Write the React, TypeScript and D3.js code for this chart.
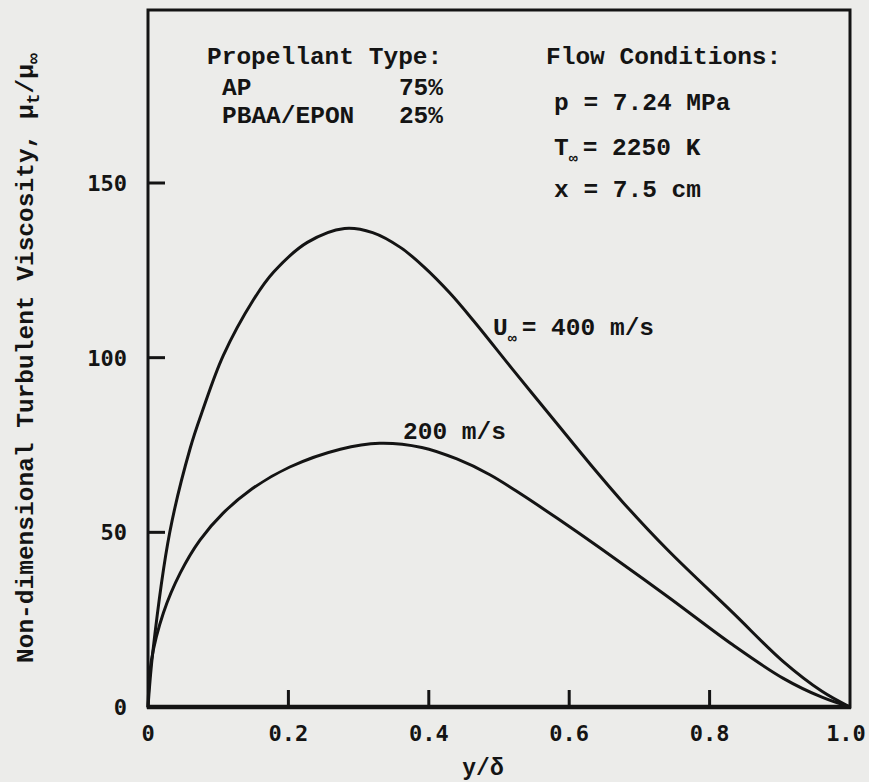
import React from 'react';
import * as d3 from 'd3';

const xTicks = [0, 0.2, 0.4, 0.6, 0.8, 1.0];
const xTickLabels = ['0', '0.2', '0.4', '0.6', '0.8', '1.0'];
const yTicks = [0, 50, 100, 150];
const yTickLabels = ['0', '50', '100', '150'];

// U∞ = 400 m/s
const yd400 = [0, 0.007, 0.031, 0.06, 0.078, 0.107, 0.15, 0.179, 0.227, 0.28, 0.32, 0.36, 0.393, 0.43, 0.464, 0.52, 0.583, 0.63, 0.677, 0.74, 0.833, 0.905, 0.96, 1];
const mu400 = [0, 16, 50, 74, 85, 100.5, 116.5, 124.5, 133, 137, 135.8, 131.5, 126, 118.5, 110.5, 96.5, 81, 69.5, 58.5, 45, 27, 13, 4.5, 0];
// U∞ = 200 m/s
const yd200 = [0, 0.005, 0.022, 0.046, 0.074, 0.107, 0.145, 0.202, 0.274, 0.33, 0.39, 0.44, 0.487, 0.534, 0.583, 0.644, 0.739, 0.833, 0.905, 0.96, 1];
const mu200 = [0, 13.5, 27, 38.4, 47.8, 55.5, 62, 68.7, 73.8, 75.5, 74.3, 71, 66.5, 60.6, 54, 45.5, 31.8, 17.8, 8.2, 2.8, 0];

const W = 869;
const H = 782;
const INK = '#141414';
const PAPER = '#ececea';
const SERIF = "'Liberation Mono', 'Courier New', monospace";
const SANS = "'DejaVu Sans Mono', monospace";

export default function App() {
  const x = d3.scaleLinear().domain([0, 1]).range([148, 850]);
  const y = d3.scaleLinear().domain([0, 150]).range([707, 183]);
  const top = 10;

  const line = d3
    .line<[number, number]>()
    .x((d) => x(d[0]))
    .y((d) => y(d[1]))
    .curve(d3.curveCatmullRom.alpha(0.5));

  const p400 = line(yd400.map((v, i) => [v, mu400[i]]) as [number, number][]) || '';
  const p200 = line(yd200.map((v, i) => [v, mu200[i]]) as [number, number][]) || '';

  const tickLen = 17;

  return (
    <svg
      width={W}
      height={H}
      style={{ position: 'absolute', left: 0, top: 0, background: PAPER }}
    >
      <rect x={0} y={0} width={W} height={H} fill={PAPER} />
      {/* frame */}
      <rect
        x={x(0)}
        y={top}
        width={x(1) - x(0)}
        height={y(0) - top}
        fill="none"
        stroke={INK}
        strokeWidth={3}
      />
      <line x1={x(0) - 1} x2={x(1) + 1} y1={y(0)} y2={y(0)} stroke={INK} strokeWidth={4.5} />

      {/* x ticks */}
      {xTicks.map((t, i) => (
        <g key={'xt' + i}>
          {i > 0 && i < xTicks.length - 1 && (
            <line x1={x(t)} x2={x(t)} y1={y(0)} y2={y(0) - tickLen} stroke={INK} strokeWidth={3} />
          )}
          <text
            x={x(t) - (i === xTicks.length - 1 ? 4 : 0)}
            y={741}
            textAnchor="middle"
            fontFamily={SANS}
            fontWeight="bold"
            fontSize={22}
            fill={INK}
          >
            {xTickLabels[i]}
          </text>
        </g>
      ))}

      {/* y ticks */}
      {yTicks.map((t, i) => (
        <g key={'yt' + i}>
          {i > 0 && (
            <line x1={x(0)} x2={x(0) + tickLen} y1={y(t)} y2={y(t)} stroke={INK} strokeWidth={3} />
          )}
          <text
            x={127}
            y={y(t) + 8}
            textAnchor="end"
            fontFamily={SANS}
            fontWeight="bold"
            fontSize={22}
            fill={INK}
          >
            {yTickLabels[i]}
          </text>
        </g>
      ))}

      {/* curves */}
      <path d={p400} fill="none" stroke={INK} strokeWidth={3} />
      <path d={p200} fill="none" stroke={INK} strokeWidth={3} />

      {/* axis titles */}
      <text x={483} y={775} textAnchor="middle" fontFamily={SERIF} fontWeight="bold" fontSize={23} fill={INK}>
        y/δ
      </text>
      <text
        transform="translate(33,663) rotate(-90)"
        fontFamily={SERIF}
        fontWeight="bold"
        fontSize={24.5}
        fill={INK}
      >
        Non-dimensional Turbulent Viscosity, μ
        <tspan dy={6} fontSize={18}>t</tspan>
        <tspan dy={-6}>/μ</tspan>
        <tspan dy={6} fontSize={18}>∞</tspan>
      </text>

      {/* legend block */}
      <g fontFamily={SERIF} fontWeight="bold" fontSize={24.5} fill={INK}>
        <text x={207} y={64}>Propellant Type:</text>
        <text x={222} y={95}>AP</text>
        <text x={443} y={95} textAnchor="end">75%</text>
        <text x={222} y={123}>PBAA/EPON</text>
        <text x={443} y={123} textAnchor="end">25%</text>

        <text x={546} y={64}>Flow Conditions:</text>
        <text x={554} y={110}>p = 7.24 MPa</text>
        <text x={554} y={155}>
          T<tspan dy={8} fontSize={15}>∞</tspan>
          <tspan dy={-8} dx={5}>= 2250 K</tspan>
        </text>
        <text x={554} y={197}>x = 7.5 cm</text>

        <text x={493} y={335}>
          U<tspan dy={8} fontSize={15}>∞</tspan>
          <tspan dy={-8} dx={5}>= 400 m/s</tspan>
        </text>
        <text x={403} y={439}>200 m/s</text>
      </g>
    </svg>
  );
}
